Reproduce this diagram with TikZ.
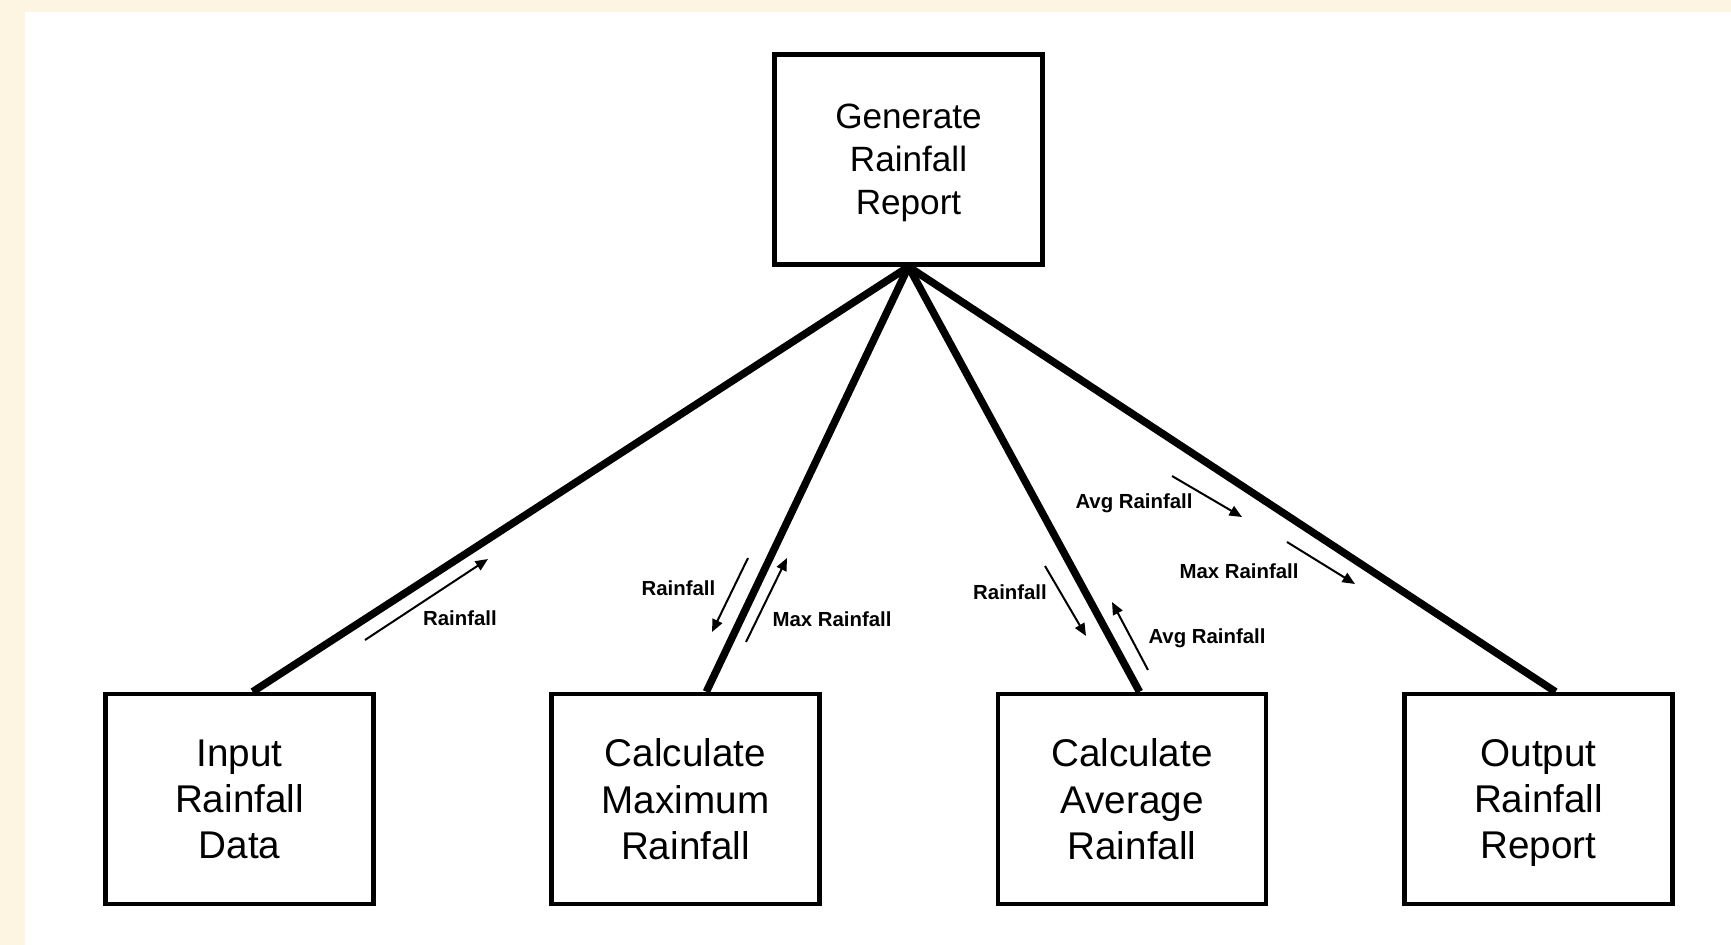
\documentclass[tikz,border=0pt]{standalone}
\usepackage{fontspec}
\setmainfont{Liberation Sans}
\usetikzlibrary{arrows.meta}
\definecolor{cream}{RGB}{253,245,226}

\begin{document}
\begin{tikzpicture}[x=0.02cm, y=-0.02cm,
	box/.style={draw, fill=white, line width=0.09cm, minimum width=5.37cm, minimum height=4.2cm, align=center, inner sep=0pt, text depth=0pt},
	link/.style={line width=0.15cm},
	flow/.style={line width=0.04cm, -{Triangle[length=0.25cm,width=0.21cm]}},
	lbl/.style={font=\bfseries\fontsize{11.6}{14}\selectfont}]
	\fill[cream] (0,0) rectangle (1731,945);
	\fill[white] (25,12) rectangle (1731,945);
	\useasboundingbox (0,0) rectangle (1731,945);
	\node[box, font=\fontsize{20}{24.6}\selectfont] (g) at (908.5,159.5) {Generate\\Rainfall\\Report};
	\node[box, font=\fontsize{22}{26.2}\selectfont] (i) at (239.5,799) {Input\\Rainfall\\Data};
	\node[box, font=\fontsize{22}{26.2}\selectfont] (m) at (685.5,799) {Calculate\\Maximum\\Rainfall};
	\node[box, font=\fontsize{22}{26.2}\selectfont] (v) at (1132,799) {Calculate\\Average\\Rainfall};
	\node[box, font=\fontsize{22}{26.2}\selectfont] (o) at (1538.5,799) {Output\\Rainfall\\Report};
	\draw[link] (g.south) -- (i.83.3);
	\draw[link] (g.south) -- (m.79.7);
	\draw[link] (g.south) -- (v.86.8);
	\draw[link] (g.south) -- (o.81.2);
	\coordinate (a1) at (365,640); \coordinate (b1) at (488,559);
	\coordinate (a2) at (748,558); \coordinate (b2) at (712,632);
	\coordinate (a3) at (746,642); \coordinate (b3) at (787,558);
	\coordinate (a4) at (1045,566); \coordinate (b4) at (1086,636);
	\coordinate (a5) at (1148,670); \coordinate (b5) at (1112,602);
	\coordinate (a6) at (1172,476); \coordinate (b6) at (1242,517);
	\coordinate (a7) at (1287,542); \coordinate (b7) at (1355,584);
	\draw[flow] (a1) -- (b1);
	\draw[flow] (a2) -- (b2);
	\draw[flow] (a3) -- (b3);
	\draw[flow] (a4) -- (b4);
	\draw[flow] (a5) -- (b5);
	\draw[flow] (a6) -- (b6);
	\draw[flow] (a7) -- (b7);
	\node[lbl] (l1) at (460,618) {Rainfall};
	\node[lbl] (l2) at (678.5,588) {Rainfall};
	\node[lbl] (l3) at (832,619) {Max Rainfall};
	\node[lbl] (l4) at (1010,592) {Rainfall};
	\node[lbl] (l5) at (1207,638) {Avg Rainfall};
	\node[lbl] (l6) at (1134,503) {Avg Rainfall};
	\node[lbl] (l7) at (1239,571) {Max Rainfall};
\end{tikzpicture}
\end{document}
